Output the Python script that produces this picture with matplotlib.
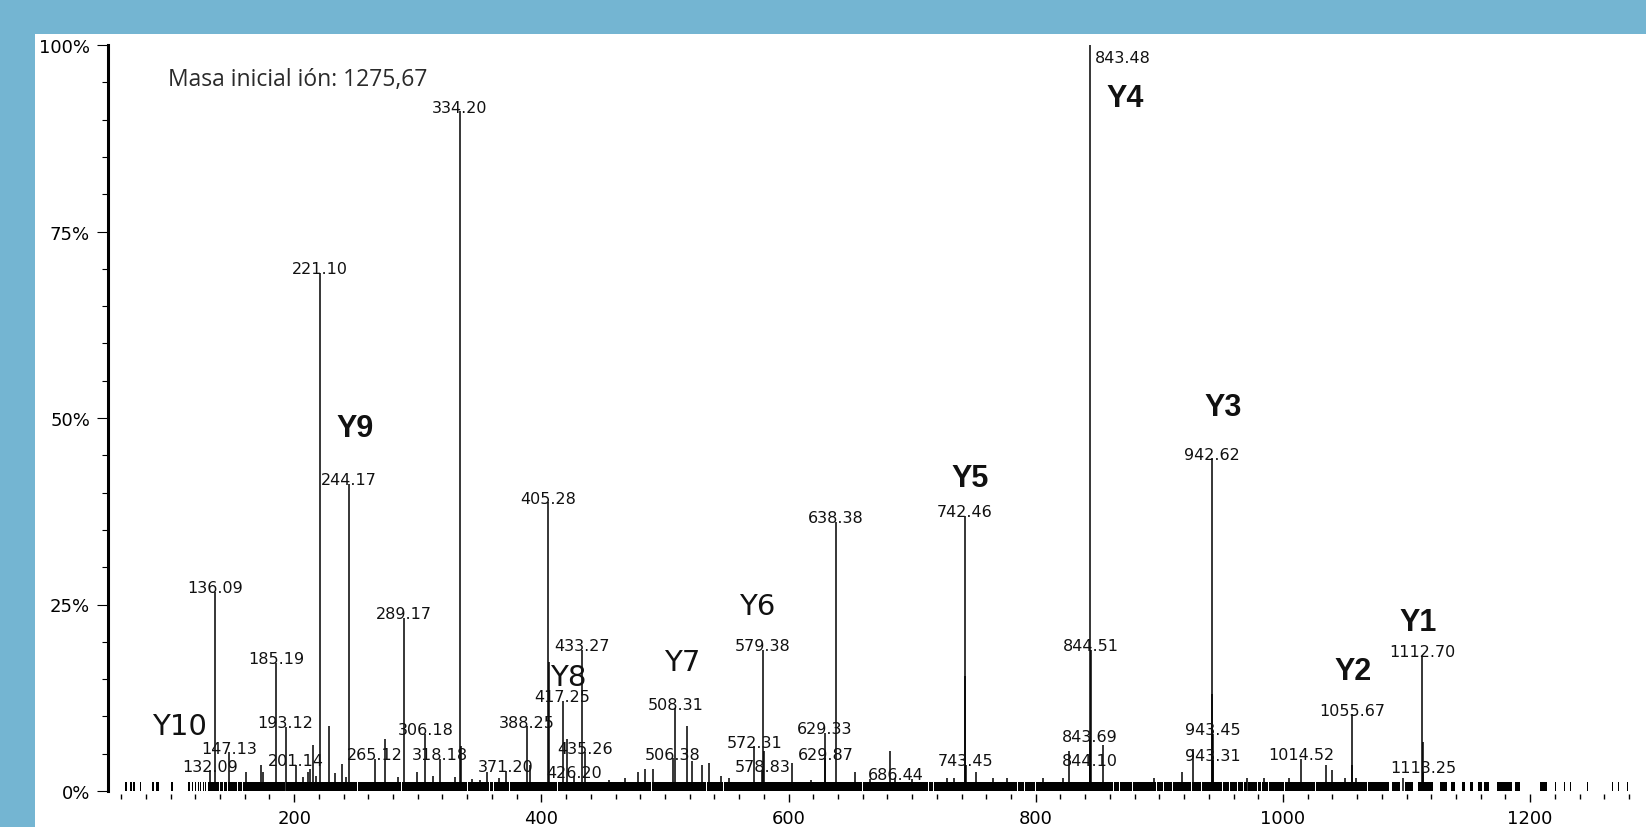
import matplotlib
matplotlib.use('Agg')
import matplotlib.pyplot as plt
from matplotlib.patches import Rectangle
from matplotlib.ticker import MultipleLocator

# labelled peaks (m/z, relative intensity %)
peak_mz = [843.48, 334.20, 221.10, 942.62, 244.17, 405.28, 742.46, 638.38,
           136.09, 289.17, 433.27, 579.38, 844.51, 1112.70, 185.19, 417.25,
           508.31, 1055.67, 193.12, 388.25, 306.18, 629.33, 943.45, 843.69,
           572.31, 147.13, 435.26, 506.38, 629.87, 318.18, 265.12, 1014.52,
           943.31, 201.14, 743.45, 844.10, 371.20, 578.83, 1113.25, 132.09,
           426.20, 686.44]
peak_int = [100.0, 91.1, 69.5, 44.6, 41.2, 38.7, 36.9, 36.1,
            26.7, 23.2, 18.9, 18.9, 18.9, 18.1, 17.2, 12.1,
            11.1, 10.3, 8.6, 8.7, 7.7, 7.8, 7.7, 6.8,
            6.0, 5.2, 5.2, 4.4, 4.4, 4.3, 4.3, 4.3,
            4.2, 3.5, 3.5, 3.5, 2.7, 2.7, 2.6, 2.8,
            2.0, 1.7]

# unlabelled peaks
other_mz = [406.0, 742.9, 942.9, 1113.0, 335.0, 580.2, 421.0, 1056.2,
            161, 173, 175, 207, 211, 213, 215, 218, 228, 233, 238.7, 242,
            273.5, 284, 299, 312, 330, 344, 350, 356, 366, 391, 455, 468,
            478, 484, 490, 518, 522, 530, 536, 545, 552, 603, 618, 654,
            666, 682, 700, 728, 734, 752, 765, 777, 806, 822, 827, 854,
            896, 918, 927, 971, 985, 1005, 1035, 1040, 1050, 1059, 1097]
other_int = [17.3, 15.4, 13.0, 6.6, 6.0, 5.4, 7.0, 3.5,
             2.5, 3.5, 2.5, 1.9, 2.5, 3.0, 6.2, 2.0, 8.7, 2.4, 3.6, 1.9,
             7.0, 1.9, 2.5, 2.0, 1.9, 1.6, 1.5, 2.5, 1.8, 3.5, 1.5, 1.8,
             2.5, 3.0, 3.0, 8.7, 4.0, 3.5, 3.8, 2.0, 1.8, 3.8, 1.5, 2.5,
             1.6, 5.4, 1.6, 1.7, 1.7, 2.5, 1.7, 1.7, 1.7, 1.7, 5.4, 6.2,
             1.7, 2.5, 5.6, 1.8, 1.7, 1.7, 3.5, 2.8, 1.7, 1.7, 1.7]

# baseline noise: dense band with small gaps, plus sparse blocks
band_start, band_end, band_level = 130.0, 1086.0, 1.25
band_gaps = [140, 143, 146, 154, 158.5, 193, 210.4, 251.6, 287, 340.6,
             358.4, 361, 374.6, 413.4, 489.5, 534, 547, 660, 713.6, 717,
             785, 791, 799.4, 862.5, 868, 878, 898, 903, 911, 926, 934,
             951, 957, 963, 968, 971, 979, 983, 988, 1001, 1026, 1068]
block_start = [63, 67, 69.5, 75, 85, 88, 100.5, 114.5, 117, 119.5, 122, 124,
               126, 128, 1088, 1099, 1109, 1127, 1136, 1145, 1151, 1158,
               1163, 1173, 1188, 1208, 1220, 1227, 1232, 1246, 1266, 1271,
               1278]
block_end = [64.5, 68.5, 71, 76, 87, 91, 102, 115.5, 118, 120.5, 123, 125,
             127, 129, 1095, 1105, 1121, 1133, 1139, 1147, 1154, 1161,
             1167, 1185, 1192, 1214, 1221, 1228, 1233, 1247, 1267, 1272,
             1279]

ion_names = ['Y1', 'Y2', 'Y3', 'Y4', 'Y5', 'Y6', 'Y7', 'Y8', 'Y9', 'Y10']
ion_mz = [1109, 1056.6, 951.5, 872, 746.8, 575, 514, 421.5, 249, 107.6]
ion_int = [22.7, 16.1, 51.5, 92.9, 42.0, 24.8, 17.3, 15.3, 48.6, 8.7]
ion_bold = [True, True, True, True, True, False, False, False, True, False]

fig = plt.figure(figsize=(16.46, 8.28), dpi=100, facecolor='#74b5d2')
fig.patches.append(Rectangle((35 / 1646, 0), 1, 1 - 35 / 828,
                             transform=fig.transFigure, facecolor='white',
                             edgecolor='none', zorder=-5))

ax = fig.add_axes([108 / 1646, 36 / 828, 1538 / 1646, 746 / 828])
ax.set_facecolor('none')
ax.set_zorder(2)

# noise band
edges = [band_start] + band_gaps + [band_end]
seg_l, seg_w = [], []
for a, b in zip(edges[:-1], edges[1:]):
    lo = a + (0.4 if a != band_start else 0)
    hi = b - (0.4 if b != band_end else 0)
    seg_l.append(lo)
    seg_w.append(hi - lo)
ax.bar(seg_l, band_level, width=seg_w, align='edge', color='black', linewidth=0)
ax.bar(block_start, 1.15, width=[e - s for s, e in zip(block_start, block_end)],
       align='edge', color='black', linewidth=0)

ax.vlines(other_mz, 0, other_int, color='black', linewidth=1.1)
ax.vlines(peak_mz, 0, peak_int, color='black', linewidth=1.1)

lab_font = dict(family='DejaVu Sans', fontsize=11.5, color='#111111')
for mz, h in zip(peak_mz, peak_int):
    if h >= 99:
        ax.annotate(f'{mz:.2f}', (mz, h), xytext=(4, -9), textcoords='offset points',
                    ha='left', va='center', **lab_font)
    else:
        ax.annotate(f'{mz:.2f}', (mz, h), xytext=(0, -2.5), textcoords='offset points',
                    ha='center', va='bottom', **lab_font)

for name, mz, h, bold in zip(ion_names, ion_mz, ion_int, ion_bold):
    if bold:
        ax.text(mz, h, name, ha='center', va='center', fontsize=22,
                fontweight='bold', family='Liberation Sans', color='#111111')
    else:
        ax.text(mz, h, name, ha='center', va='center', fontsize=21,
                family='DejaVu Sans', color='#111111')

fig.text(168 / 1646, 1 - 80 / 828, 'Masa inicial ión: 1275,67', ha='left',
         va='center', fontsize=16.5, family='Open Sans', color='#2a2a2a')

ax.set_xlim(49.4, 1293.7)
ax.set_ylim(0, 100)
for s in ['top', 'right']:
    ax.spines[s].set_visible(False)
ax.spines['bottom'].set_position(('outward', 2.2))
ax.spines['bottom'].set_visible(False)
ax.spines['left'].set_linewidth(2.2)

ax.set_yticks([0, 25, 50, 75, 100])
ax.set_yticklabels(['0%', '25%', '50%', '75%', '100%'])
ax.yaxis.set_minor_locator(MultipleLocator(5))
ax.xaxis.set_major_locator(MultipleLocator(200))
ax.xaxis.set_minor_locator(MultipleLocator(20))
ax.tick_params(axis='y', which='major', length=8, width=0.8, pad=5, labelsize=13)
ax.tick_params(axis='y', which='minor', length=4.3, width=0.8)
ax.tick_params(axis='x', which='major', length=6, width=1.0, pad=5, labelsize=13)
ax.tick_params(axis='x', which='minor', length=3.6, width=1.0)

fig.savefig('out.png', dpi=100, facecolor=fig.get_facecolor())
